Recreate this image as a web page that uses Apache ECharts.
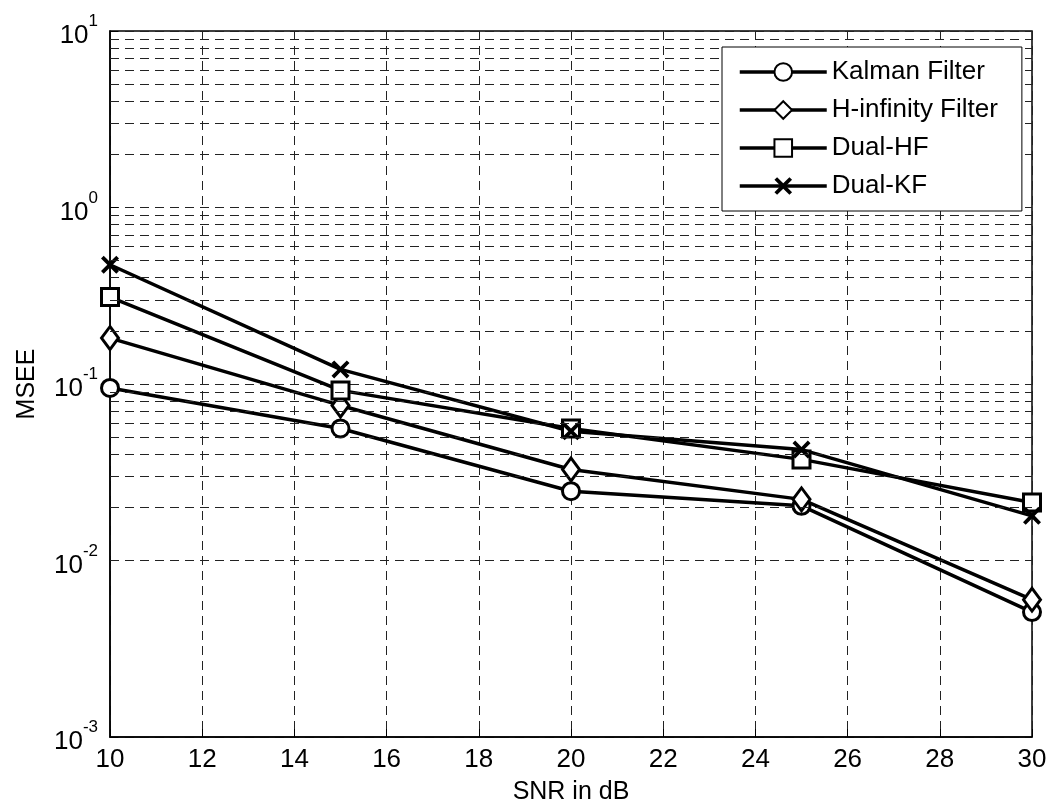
<!DOCTYPE html>
<html>
<head>
<meta charset="utf-8">
<script src="https://cdn.jsdelivr.net/npm/echarts@6/dist/echarts.min.js"></script>
<style>
  html, body {margin: 0; padding: 0; background: #fff;}
  #chart {width: 1050px; height: 810px;}
</style>
</head>
<body>
<div id="chart"></div>
<script>
// SNR values (dB)
const snr = [10, 15, 20, 25, 30]

// MSEE per filter
const kalman = [0.095, 0.056, 0.0247, 0.0204, 0.0051]
const hInfinity = [0.182, 0.0756, 0.0328, 0.0222, 0.0060]
const dualHF = [0.311, 0.092, 0.056, 0.0374, 0.0213]
const dualKF = [0.474, 0.121, 0.054, 0.0425, 0.0179]

const seriesNames = ['Kalman Filter', 'H-infinity Filter', 'Dual-HF', 'Dual-KF']

// minor log grid lines (2..9 per decade)
const minorGrid = [
  0.002, 0.003, 0.004, 0.005, 0.006, 0.007, 0.008, 0.009,
  0.02, 0.03, 0.04, 0.05, 0.06, 0.07, 0.08, 0.09,
  0.2, 0.3, 0.4, 0.5, 0.6, 0.7, 0.8, 0.9,
  2, 3, 4, 5, 6, 7, 8, 9
]

const font = "'Liberation Sans', Arial, sans-serif"
const crossPath = 'path://M0,3L3,0L10,7L17,0L20,3L13,10L20,17L17,20L10,13L3,20L0,17L7,10Z'
const dash = [9, 6]

const toPairs = values => values.map((v, i) => [snr[i], v])

// hollow markers: white fill with a thick black outline; the cross is a filled shape
const makeSeries = (name, values, symbol, size) => ({
  name,
  type: 'line',
  data: toPairs(values),
  symbol,
  symbolSize: size,
  showAllSymbol: true,
  lineStyle: {color: '#000', width: 3.5},
  itemStyle: symbol === crossPath
    ? {color: '#000', borderWidth: 0}
    : {color: '#fff', borderColor: '#000', borderWidth: 3},
  z: 3,
  animation: false
})

const chart = echarts.init(document.getElementById('chart'))
chart.setOption({
  backgroundColor: '#fff',
  textStyle: {fontFamily: font, color: '#000'},
  grid: {left: 110, right: 18, top: 31, bottom: 72, show: true, borderColor: '#000', borderWidth: 1.5, backgroundColor: 'transparent'},
  legend: {
    data: seriesNames,
    orient: 'vertical',
    left: 722,
    top: 47,
    z: 10,
    padding: [12, 24, 12, 16],
    itemWidth: 87,
    itemHeight: 22,
    itemGap: 12,
    backgroundColor: '#fff',
    borderColor: '#000',
    borderWidth: 1,
    borderRadius: 0,
    lineStyle: {width: 3.5},
    textStyle: {fontFamily: font, fontSize: 26, color: '#000'}
  },
  xAxis: {
    type: 'value',
    min: 10,
    max: 30,
    interval: 2,
    name: 'SNR in dB',
    nameLocation: 'middle',
    nameGap: 43,
    nameTextStyle: {fontSize: 25, color: '#000', fontFamily: font},
    axisLine: {lineStyle: {color: '#000', width: 1.5}},
    axisTick: {inside: true, length: 8, lineStyle: {color: '#000'}},
    axisLabel: {fontSize: 26, color: '#000', margin: 10, fontFamily: font},
    splitLine: {show: true, lineStyle: {color: '#222', type: dash, width: 1}}
  },
  yAxis: {
    type: 'log',
    logBase: 10,
    min: 0.001,
    max: 10,
    name: 'MSEE',
    nameLocation: 'middle',
    nameGap: 70,
    nameTextStyle: {fontSize: 25, color: '#000', fontFamily: font},
    axisLine: {lineStyle: {color: '#000', width: 1.5}},
    axisTick: {inside: true, length: 8, lineStyle: {color: '#000'}},
    axisLabel: {
      margin: 12,
      formatter: v => '{b|10}{s|' + Math.round(Math.log10(v)) + '}',
      rich: {
        b: {fontSize: 26, fontFamily: font, color: '#000', lineHeight: 36, verticalAlign: 'bottom'},
        s: {fontSize: 17, fontFamily: font, color: '#000', lineHeight: 16, verticalAlign: 'top'}
      }
    },
    splitLine: {show: true, lineStyle: {color: '#222', type: dash, width: 1}}
  },
  series: [
    {
      name: 'minor grid',
      type: 'line',
      data: [],
      z: 1,
      silent: true,
      animation: false,
      markLine: {
        silent: true,
        animation: false,
        symbol: 'none',
        label: {show: false},
        lineStyle: {color: '#222', type: dash, width: 1},
        data: minorGrid.map(v => ({yAxis: v}))
      }
    },
    makeSeries(seriesNames[0], kalman, 'circle', 17),
    makeSeries(seriesNames[1], hInfinity, 'diamond', [17, 23]),
    makeSeries(seriesNames[2], dualHF, 'rect', 17),
    makeSeries(seriesNames[3], dualKF, crossPath, 18)
  ]
})
</script>
</body>
</html>
